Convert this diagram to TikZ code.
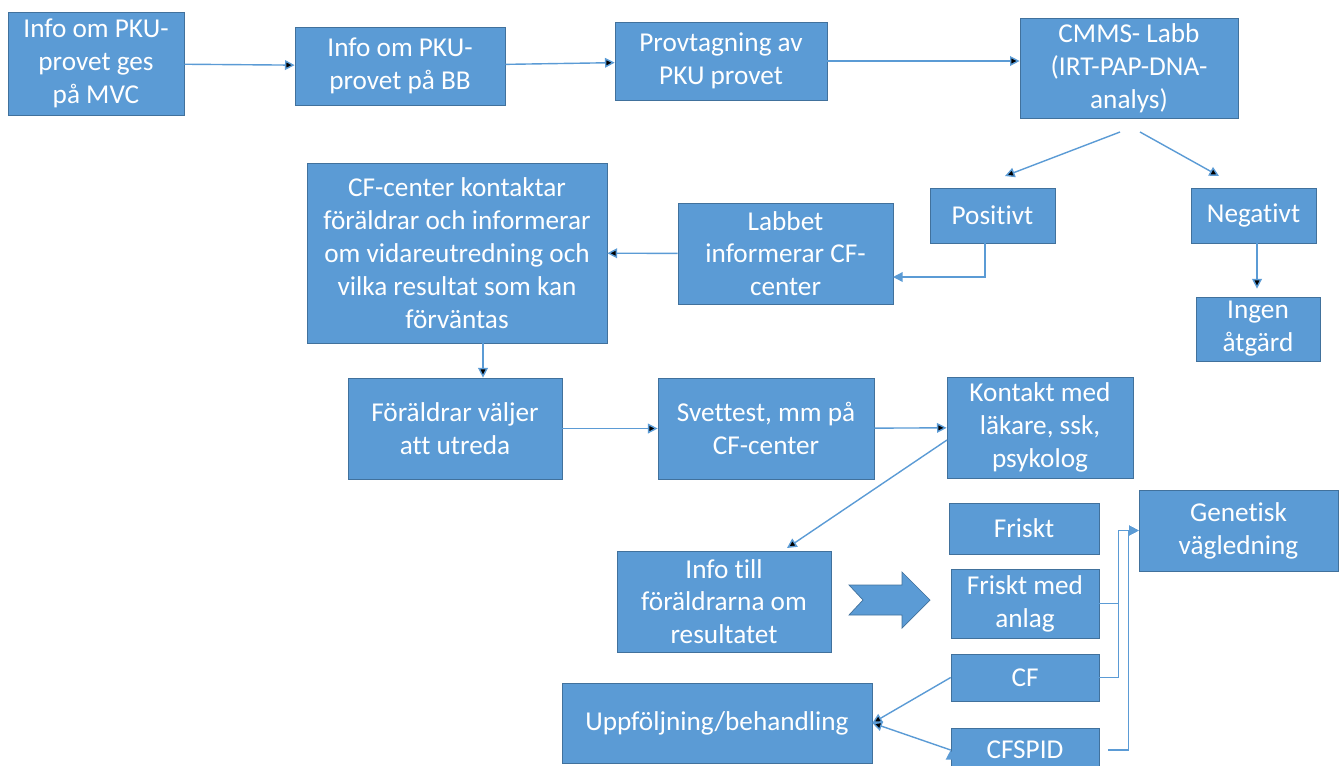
\documentclass[tikz,border=0pt]{standalone}
\usepackage{fontspec}
\setmainfont{Carlito}[Ligatures=NoCommon]
\usepackage{tikz}
\usetikzlibrary{arrows.meta}

\definecolor{boxblue}{HTML}{5B9BD5}
\definecolor{boxedge}{HTML}{41719C}

\begin{document}
\begin{tikzpicture}[x=0.02cm, y=-0.02cm,
    box/.style 2 args={draw=boxedge, fill=boxblue, text=white, align=center, inner sep=0pt,
        minimum width=#1*0.02cm, minimum height=#2*0.02cm,
        font=\fontsize{15.5}{18.7}\selectfont},
    line/.style={draw=boxblue, line width=0.8pt, -{Triangle[length=5.5pt,width=5.5pt]}}]

\useasboundingbox (0,0) rectangle (1341,765);
\clip (0,0) rectangle (1341,765);

\node[box={176}{103}] (mvc)     at (96,63.5)     {Info om PKU-\\provet ges\\på MVC};
\node[box={210}{78}]  (bb)      at (400,66)      {Info om PKU-\\provet på BB};
\node[box={212}{78}]  (prov)    at (721,61)      {Provtagning av\\PKU provet};
\node[box={218}{100}] (labb)    at (1129,68)     {CMMS- Labb\\(IRT-PAP-DNA-\\analys)};
\node[box={125}{55}]  (pos)     at (992.5,215.5) {Positivt};
\node[box={125}{55}]  (neg)     at (1253.5,215.5){Negativt};
\node[box={124}{64}]  (ingen)   at (1258,329)    {Ingen\\åtgärd};
\node[box={215}{101}] (labbet)  at (785.5,253.5) {Labbet\\informerar CF-\\center};
\node[box={300}{180}] (cfc)     at (457,253)     {CF-center kontaktar\\föräldrar och informerar\\om vidareutredning och\\vilka resultat som kan\\förväntas};
\node[box={214}{101}] (utreda)  at (455,428.5)   {Föräldrar väljer\\att utreda};
\node[box={216}{101}] (svett)   at (766,428.5)   {Svettest, mm på\\CF-center};
\node[box={186}{101}] (kontakt) at (1040,427.5)  {Kontakt med\\läkare, ssk,\\psykolog};
\node[box={214}{101}] (info)    at (724,601.5)   {Info till\\föräldrarna om\\resultatet};
\node[box={150}{51}]  (friskt)  at (1024,528.5)  {Friskt};
\node[box={148}{69}]  (anlag)   at (1025,603.5)  {Friskt med\\anlag};
\node[box={148}{47}]  (cf)      at (1025,677.5)  {CF};
\node[box={148}{44}]  (cfspid)  at (1025,750)    {CFSPID};
\node[box={199}{81}]  (gen)     at (1238.5,530.5){Genetisk\\vägledning};
\node[box={310}{80}]  (uppf)    at (717,723)     {Uppföljning/behandling};

% block arrow between info and the outcomes
\draw[draw=boxedge, fill=boxblue] (849,585) -- (902,585) -- (902,572) -- (930,600)
    -- (902,628) -- (902,615) -- (849,615) -- (863,600) -- cycle;

\coordinate (lout1) at (1120,132);
\coordinate (lout2) at (1140,132);
\coordinate (posin) at (1005,176);
\coordinate (negin) at (1219,176);
\coordinate (posout) at (985,243);
\coordinate (labbin) at (893,277);
\coordinate (kout) at (947,440);
\coordinate (infoin) at (787,548);
\coordinate (cfcout) at (483,343);
\coordinate (negout) at (1257,243);

\path[line]
      (mvc)          edge (bb)
      (bb)           edge (prov)
      (prov.east)    edge (labb.west |- prov.east)
      (lout1)        edge (posin)
      (lout2)        edge (negin)
      (labbet)       edge (cfc)
      (cfcout)       edge (cfcout |- utreda.north)
      (negout)       edge ([yshift=0.16cm]negout |- ingen.north)
      (utreda)       edge (svett)
      (svett)        edge (kontakt)
      (kout)         edge (infoin)
      (cf.west)      edge (uppf.east)
      (cfspid.west)  edge (uppf.east);

\draw[line] (posout) |- (labbin);
\draw[line] (anlag.east) -- ++(19,0) |- (gen.west);
\draw[line] (cf.east) -- ++(19,0) |- (gen.west);
\draw[line] ([xshift=0.18cm]cfspid.east) -- ++(20,0) |- (gen.west);
\end{tikzpicture}
\end{document}
